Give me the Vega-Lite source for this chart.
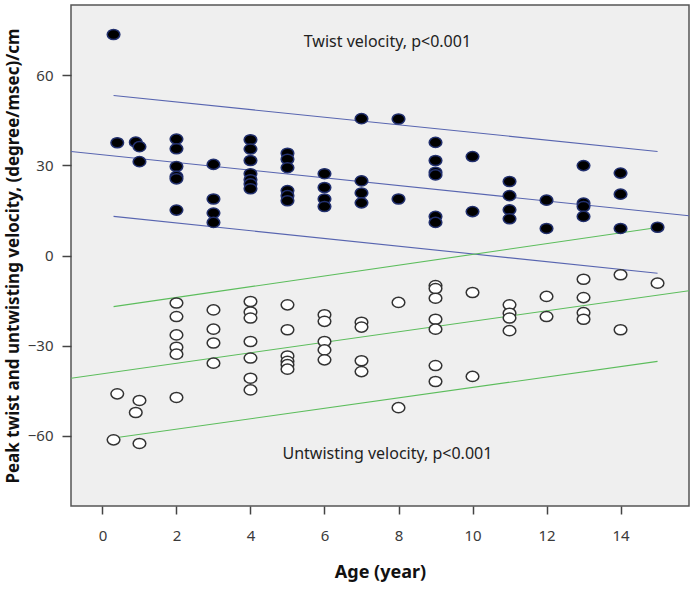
{
  "$schema": "https://vega.github.io/schema/vega-lite/v6.json",
  "width": 618,
  "height": 501,
  "autosize": {"type": "none"},
  "padding": {"left": 71, "top": 5, "right": 5, "bottom": 83},
  "background": "#ffffff",
  "config": {
    "font": "Noto Sans",
    "view": {"fill": "#efefef", "stroke": "#555555", "strokeWidth": 1.5},
    "axis": {
      "grid": false,
      "domain": false,
      "tickColor": "#444444",
      "tickWidth": 1.5,
      "labelFont": "Noto Sans",
      "labelFontSize": 15,
      "labelColor": "#3a3a3a",
      "titleFont": "Noto Sans",
      "titleFontWeight": "bold",
      "titleColor": "#111111"
    }
  },
  "datasets": {
    "points": [
      {"age": 0.3, "velocity": 73.5, "type": "Twist"},
      {"age": 0.4, "velocity": 37.5, "type": "Twist"},
      {"age": 0.9, "velocity": 37.7, "type": "Twist"},
      {"age": 1.0, "velocity": 36.2, "type": "Twist"},
      {"age": 1.0, "velocity": 31.2, "type": "Twist"},
      {"age": 2, "velocity": 38.7, "type": "Twist"},
      {"age": 2, "velocity": 35.5, "type": "Twist"},
      {"age": 2, "velocity": 29.6, "type": "Twist"},
      {"age": 2, "velocity": 26.3, "type": "Twist"},
      {"age": 2, "velocity": 25.5, "type": "Twist"},
      {"age": 2, "velocity": 15.1, "type": "Twist"},
      {"age": 3, "velocity": 30.3, "type": "Twist"},
      {"age": 3, "velocity": 18.8, "type": "Twist"},
      {"age": 3, "velocity": 14.1, "type": "Twist"},
      {"age": 3, "velocity": 11.0, "type": "Twist"},
      {"age": 4, "velocity": 38.5, "type": "Twist"},
      {"age": 4, "velocity": 35.4, "type": "Twist"},
      {"age": 4, "velocity": 31.6, "type": "Twist"},
      {"age": 4, "velocity": 27.2, "type": "Twist"},
      {"age": 4, "velocity": 25.2, "type": "Twist"},
      {"age": 4, "velocity": 23.8, "type": "Twist"},
      {"age": 4, "velocity": 22.2, "type": "Twist"},
      {"age": 5, "velocity": 34.0, "type": "Twist"},
      {"age": 5, "velocity": 32.0, "type": "Twist"},
      {"age": 5, "velocity": 29.2, "type": "Twist"},
      {"age": 5, "velocity": 21.6, "type": "Twist"},
      {"age": 5, "velocity": 19.9, "type": "Twist"},
      {"age": 5, "velocity": 18.2, "type": "Twist"},
      {"age": 6, "velocity": 27.2, "type": "Twist"},
      {"age": 6, "velocity": 22.6, "type": "Twist"},
      {"age": 6, "velocity": 18.8, "type": "Twist"},
      {"age": 6, "velocity": 16.3, "type": "Twist"},
      {"age": 7, "velocity": 45.5, "type": "Twist"},
      {"age": 7, "velocity": 24.8, "type": "Twist"},
      {"age": 7, "velocity": 20.8, "type": "Twist"},
      {"age": 7, "velocity": 17.5, "type": "Twist"},
      {"age": 8, "velocity": 45.4, "type": "Twist"},
      {"age": 8, "velocity": 18.8, "type": "Twist"},
      {"age": 9, "velocity": 37.6, "type": "Twist"},
      {"age": 9, "velocity": 31.6, "type": "Twist"},
      {"age": 9, "velocity": 27.7, "type": "Twist"},
      {"age": 9, "velocity": 26.8, "type": "Twist"},
      {"age": 9, "velocity": 13.0, "type": "Twist"},
      {"age": 9, "velocity": 11.0, "type": "Twist"},
      {"age": 10, "velocity": 32.9, "type": "Twist"},
      {"age": 10, "velocity": 14.6, "type": "Twist"},
      {"age": 11, "velocity": 24.6, "type": "Twist"},
      {"age": 11, "velocity": 19.9, "type": "Twist"},
      {"age": 11, "velocity": 15.2, "type": "Twist"},
      {"age": 11, "velocity": 12.2, "type": "Twist"},
      {"age": 12, "velocity": 18.4, "type": "Twist"},
      {"age": 12, "velocity": 9.0, "type": "Twist"},
      {"age": 13, "velocity": 29.9, "type": "Twist"},
      {"age": 13, "velocity": 17.4, "type": "Twist"},
      {"age": 13, "velocity": 16.3, "type": "Twist"},
      {"age": 13, "velocity": 13.0, "type": "Twist"},
      {"age": 14, "velocity": 27.4, "type": "Twist"},
      {"age": 14, "velocity": 20.4, "type": "Twist"},
      {"age": 14, "velocity": 9.0, "type": "Twist"},
      {"age": 15, "velocity": 9.4, "type": "Twist"},
      {"age": 0.3, "velocity": -61.3, "type": "Untwisting"},
      {"age": 0.4, "velocity": -46.0, "type": "Untwisting"},
      {"age": 1.0, "velocity": -48.2, "type": "Untwisting"},
      {"age": 0.9, "velocity": -52.2, "type": "Untwisting"},
      {"age": 1.0, "velocity": -62.5, "type": "Untwisting"},
      {"age": 2, "velocity": -15.8, "type": "Untwisting"},
      {"age": 2, "velocity": -20.3, "type": "Untwisting"},
      {"age": 2, "velocity": -26.4, "type": "Untwisting"},
      {"age": 2, "velocity": -30.5, "type": "Untwisting"},
      {"age": 2, "velocity": -32.8, "type": "Untwisting"},
      {"age": 2, "velocity": -47.2, "type": "Untwisting"},
      {"age": 3, "velocity": -18.1, "type": "Untwisting"},
      {"age": 3, "velocity": -24.5, "type": "Untwisting"},
      {"age": 3, "velocity": -29.1, "type": "Untwisting"},
      {"age": 3, "velocity": -35.8, "type": "Untwisting"},
      {"age": 4, "velocity": -15.3, "type": "Untwisting"},
      {"age": 4, "velocity": -18.8, "type": "Untwisting"},
      {"age": 4, "velocity": -20.8, "type": "Untwisting"},
      {"age": 4, "velocity": -28.6, "type": "Untwisting"},
      {"age": 4, "velocity": -34.1, "type": "Untwisting"},
      {"age": 4, "velocity": -40.8, "type": "Untwisting"},
      {"age": 4, "velocity": -44.7, "type": "Untwisting"},
      {"age": 5, "velocity": -16.4, "type": "Untwisting"},
      {"age": 5, "velocity": -24.7, "type": "Untwisting"},
      {"age": 5, "velocity": -33.4, "type": "Untwisting"},
      {"age": 5, "velocity": -35.2, "type": "Untwisting"},
      {"age": 5, "velocity": -36.3, "type": "Untwisting"},
      {"age": 5, "velocity": -37.8, "type": "Untwisting"},
      {"age": 6, "velocity": -19.7, "type": "Untwisting"},
      {"age": 6, "velocity": -21.9, "type": "Untwisting"},
      {"age": 6, "velocity": -28.6, "type": "Untwisting"},
      {"age": 6, "velocity": -31.4, "type": "Untwisting"},
      {"age": 6, "velocity": -34.7, "type": "Untwisting"},
      {"age": 7, "velocity": -22.2, "type": "Untwisting"},
      {"age": 7, "velocity": -23.8, "type": "Untwisting"},
      {"age": 7, "velocity": -35.0, "type": "Untwisting"},
      {"age": 7, "velocity": -38.6, "type": "Untwisting"},
      {"age": 8, "velocity": -15.6, "type": "Untwisting"},
      {"age": 8, "velocity": -50.6, "type": "Untwisting"},
      {"age": 9, "velocity": -10.0, "type": "Untwisting"},
      {"age": 9, "velocity": -11.0, "type": "Untwisting"},
      {"age": 9, "velocity": -14.2, "type": "Untwisting"},
      {"age": 9, "velocity": -21.2, "type": "Untwisting"},
      {"age": 9, "velocity": -24.5, "type": "Untwisting"},
      {"age": 9, "velocity": -36.6, "type": "Untwisting"},
      {"age": 9, "velocity": -41.9, "type": "Untwisting"},
      {"age": 10, "velocity": -12.3, "type": "Untwisting"},
      {"age": 10, "velocity": -40.2, "type": "Untwisting"},
      {"age": 11, "velocity": -16.4, "type": "Untwisting"},
      {"age": 11, "velocity": -19.2, "type": "Untwisting"},
      {"age": 11, "velocity": -20.8, "type": "Untwisting"},
      {"age": 11, "velocity": -25.0, "type": "Untwisting"},
      {"age": 12, "velocity": -13.6, "type": "Untwisting"},
      {"age": 12, "velocity": -20.3, "type": "Untwisting"},
      {"age": 13, "velocity": -7.9, "type": "Untwisting"},
      {"age": 13, "velocity": -14.0, "type": "Untwisting"},
      {"age": 13, "velocity": -19.0, "type": "Untwisting"},
      {"age": 13, "velocity": -21.2, "type": "Untwisting"},
      {"age": 14, "velocity": -6.4, "type": "Untwisting"},
      {"age": 14, "velocity": -24.7, "type": "Untwisting"},
      {"age": 15, "velocity": -9.2, "type": "Untwisting"}
    ],
    "lines": [
      {"line": "twist_mean", "group": "Twist", "age": -0.85, "velocity": 34.6},
      {"line": "twist_mean", "group": "Twist", "age": 15.85, "velocity": 13.2},
      {"line": "twist_upper", "group": "Twist", "age": 0.3, "velocity": 53.2},
      {"line": "twist_upper", "group": "Twist", "age": 15, "velocity": 34.6},
      {"line": "twist_lower", "group": "Twist", "age": 0.3, "velocity": 13.0},
      {"line": "twist_lower", "group": "Twist", "age": 15, "velocity": -5.9},
      {"line": "untwist_mean", "group": "Untwisting", "age": -0.85, "velocity": -40.8},
      {"line": "untwist_mean", "group": "Untwisting", "age": 15.85, "velocity": -11.7},
      {"line": "untwist_upper", "group": "Untwisting", "age": 0.3, "velocity": -17.0},
      {"line": "untwist_upper", "group": "Untwisting", "age": 15, "velocity": 9.3},
      {"line": "untwist_lower", "group": "Untwisting", "age": 0.3, "velocity": -60.7},
      {"line": "untwist_lower", "group": "Untwisting", "age": 15, "velocity": -35.2}
    ],
    "labels": [
      {"age": 7.7, "velocity": 71.1, "label": "Twist velocity, p<0.001"},
      {"age": 7.7, "velocity": -66.0, "label": "Untwisting velocity, p<0.001"}
    ]
  },
  "encoding": {
    "x": {
      "field": "age", "type": "quantitative",
      "scale": {"domain": [-0.85, 15.85], "nice": false, "zero": false},
      "axis": {"values": [0, 2, 4, 6, 8, 10, 12, 14], "title": "Age (year)", "tickSize": 8, "labelPadding": 14, "titleFontSize": 18, "titlePadding": 20}
    },
    "y": {
      "field": "velocity", "type": "quantitative",
      "scale": {"domain": [-83.3, 83.3], "nice": false, "zero": false},
      "axis": {"values": [-60, -30, 0, 30, 60], "title": "Peak twist and untwisting velocity, (degree/msec)/cm", "tickSize": 9, "labelPadding": 9, "titleFontSize": 17, "titlePadding": 5}
    }
  },
  "layer": [
    {
      "data": {"name": "lines"},
      "mark": {"type": "line", "strokeWidth": 1.1, "clip": true},
      "encoding": {
        "detail": {"field": "line"},
        "color": {"field": "group", "type": "nominal", "scale": {"domain": ["Twist", "Untwisting"], "range": ["#5865b0", "#5cbd5c"]}, "legend": null}
      }
    },
    {
      "data": {"name": "points"},
      "mark": {"type": "point", "shape": "M-1,0A1,0.8,0,1,1,1,0A1,0.8,0,1,1,-1,0Z", "size": 160, "filled": false, "opacity": 1, "strokeWidth": 1.5},
      "encoding": {
        "fill": {"field": "type", "type": "nominal", "scale": {"domain": ["Twist", "Untwisting"], "range": ["#000000", "#ffffff"]}, "legend": null},
        "stroke": {"field": "type", "type": "nominal", "scale": {"domain": ["Twist", "Untwisting"], "range": ["#22306e", "#333333"]}, "legend": null}
      }
    },
    {
      "data": {"name": "labels"},
      "mark": {"type": "text", "fontSize": 16, "font": "Noto Sans", "color": "#222222", "align": "center", "baseline": "middle"},
      "encoding": {"text": {"field": "label"}}
    }
  ]
}
